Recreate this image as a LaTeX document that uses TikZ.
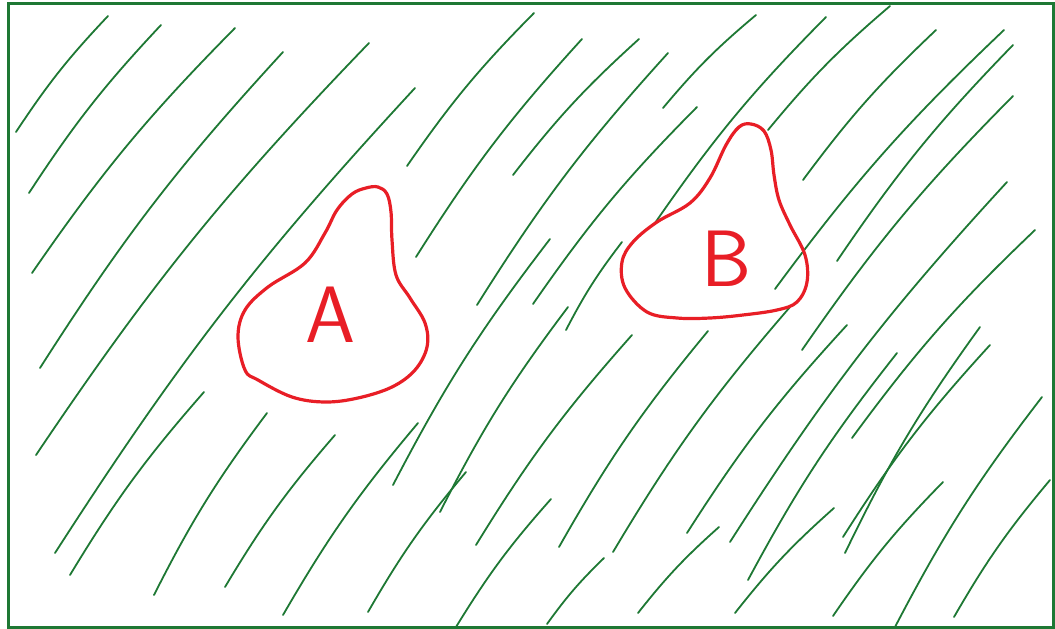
\documentclass[tikz,border=0pt]{standalone}
\usepackage{tikz}
\usetikzlibrary{positioning}
\definecolor{hatchgreen}{RGB}{30,120,52}
\definecolor{blobred}{RGB}{232,30,38}

\begin{document}
\begin{tikzpicture}[
  x=1pt, y=-1pt,
  frame/.style={draw=hatchgreen, line width=3pt},
  hatch/.style={draw=hatchgreen, line width=1.8pt, line cap=round},
  blob/.style={draw=blobred, line width=3.2pt, line join=round},
  letter/.style={text=blobred, font=\sffamily\fontsize{80}{80}\selectfont, inner sep=0pt},
]
\useasboundingbox (0,0) rectangle (1055,629);

% outer frame
\draw[frame] (8,3) rectangle (1053,627);

% hatching, each stroke from lower left to upper right
\foreach \ax/\ay/\bx/\by in {
  16/132/108/16, 29/193/161/25, 32/273/235/28, 40/368/283/52,
  36/455/369/43, 55/553/415/88, 70/575/204/392, 154/595/267/413,
  225/587/335/435, 283/615/418/423, 407/166/534/13, 416/257/582/39,
  513/175/639/39, 477/305/668/53, 533/304/697/107, 663/108/756/15,
  655/223/826/17, 393/485/550/239, 368/612/466/472, 440/512/568/307,
  566/330/622/242, 476/545/632/335, 559/547/708/331, 613/552/790/307,
  687/533/847/325, 730/542/1007/182, 748/580/897/353, 852/438/1035/230,
  735/613/834/508, 845/553/980/327, 843/537/990/345, 833/616/943/482,
  895/627/1042/397, 954/617/1050/480, 638/613/719/527, 456/627/551/499,
  547/624/604/558, 768/130/890/6, 803/180/936/30, 775/289/1004/30,
  837/261/1013/45, 802/350/1013/96}
  \draw[hatch] (\ax,\ay) to[bend left=5] (\bx,\by);

% region A
\draw[blob] plot[smooth cycle, tension=0.6] coordinates {
  (378,187) (387,194) (391,212) (392,240) (396,275) (410,298) (425,323)
  (427,347) (415,370) (392,387) (358,398) (325,402) (292,397) (258,380)
  (245,370) (238,337) (245,310) (268,287) (305,263) (325,233) (337,210)
  (352,194) (366,188)};
\node[letter] (labelA) at (330,315) {A};

% region B
\draw[blob] plot[smooth cycle, tension=0.6] coordinates {
  (751,124) (764,131) (771,150) (774,175) (779,200) (790,225) (805,255)
  (807,282) (797,302) (777,310) (743,315) (710,318) (677,318) (647,312)
  (625,288) (622,262) (633,242) (657,222) (690,203) (710,178) (726,145)
  (739,127)};
\node[letter] (labelB) at (727,259) {B};

\end{tikzpicture}
\end{document}
